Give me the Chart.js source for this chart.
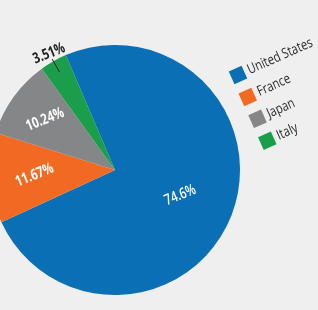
<!DOCTYPE html>
<html>
<head>
<meta charset="utf-8">
<script src="https://cdn.jsdelivr.net/npm/chart.js@4.4.1/dist/chart.umd.min.js"></script>
<style>
  html, body { margin: 0; padding: 0; background: #efefef; }
  #wrap { position: relative; width: 318px; height: 310px; overflow: hidden; background: #efefef; }
  #box { position: absolute; left: -10px; top: 0; width: 328px; height: 310px; }
</style>
</head>
<body>
<div id="wrap">
  <div id="box"><canvas id="pie"></canvas></div>
</div>
<script>
const countries = ["United States", "France", "Japan", "Italy"];
const shares = [74.6, 11.67, 10.24, 3.51];
const shareLabels = ["74.6%", "11.67%", "10.24%", "3.51%"];
const colors = ["#0a6fb4", "#f26a22", "#858688", "#1a9e4b"];

const FONT = "'Open Sans', sans-serif";
const TILT = -22 * Math.PI / 180;
const SQUEEZE = 0.76; // the source font is a narrow one

// where each % label sits, as a fraction of the radius
const labelDist = [0.56, 0.645, 0.69, 1.07];
const labelColor = ["#ffffff", "#ffffff", "#ffffff", "#222222"];
const labelWeight = ["600", "bold", "bold", "bold"];

const sliceLabels = {
  id: "sliceLabels",
  afterDatasetsDraw(chart) {
    const ctx = chart.ctx;
    const arcs = chart.getDatasetMeta(0).data;
    arcs.forEach((arc, i) => {
      const p = arc.getProps(["x", "y", "startAngle", "endAngle", "outerRadius"], true);
      const mid = (p.startAngle + p.endAngle) / 2;
      const r = p.outerRadius;
      const x = p.x + Math.cos(mid) * r * labelDist[i];
      const y = p.y + Math.sin(mid) * r * labelDist[i];
      if (i === 3) {
        ctx.save();
        ctx.strokeStyle = "#222";
        ctx.lineWidth = 1;
        ctx.beginPath();
        ctx.moveTo(p.x + Math.cos(mid) * r * 1.02, p.y + Math.sin(mid) * r * 1.02);
        ctx.lineTo(p.x + Math.cos(mid) * r * 0.9, p.y + Math.sin(mid) * r * 0.9);
        ctx.stroke();
        ctx.restore();
      }
      ctx.save();
      ctx.translate(x, y);
      ctx.rotate(TILT);
      ctx.scale(SQUEEZE, 1);
      ctx.fillStyle = labelColor[i];
      ctx.font = labelWeight[i] + " 15px " + FONT;
      ctx.textAlign = "center";
      ctx.textBaseline = "middle";
      ctx.fillText(shareLabels[i], 0, 0);
      ctx.restore();
    });
  }
};

const tiltedLegend = {
  id: "tiltedLegend",
  afterDraw(chart) {
    const ctx = chart.ctx;
    ctx.save();
    ctx.translate(248, 75);
    ctx.rotate(-24 * Math.PI / 180);
    countries.forEach((name, i) => {
      const y = i * 24;
      ctx.fillStyle = colors[i];
      ctx.fillRect(-7, y - 7, 14, 14);
      ctx.save();
      ctx.translate(11, y);
      ctx.scale(0.8, 1);
      ctx.fillStyle = "#2a2a2a";
      ctx.font = "14px " + FONT;
      ctx.textAlign = "left";
      ctx.textBaseline = "middle";
      ctx.fillText(name, 0, 0);
      ctx.restore();
    });
    ctx.restore();
  }
};

new Chart(document.getElementById("pie"), {
  type: "pie",
  data: {
    labels: countries,
    datasets: [{
      data: shares,
      backgroundColor: colors,
      borderWidth: 0,
    }],
  },
  options: {
    responsive: true,
    maintainAspectRatio: false,
    animation: false,
    rotation: -23.2,
    layout: { padding: { left: 0, right: 78, top: 45, bottom: 15 } },
    plugins: {
      legend: { display: false },
      tooltip: { enabled: false },
    },
  },
  plugins: [sliceLabels, tiltedLegend],
});
</script>
</body>
</html>
